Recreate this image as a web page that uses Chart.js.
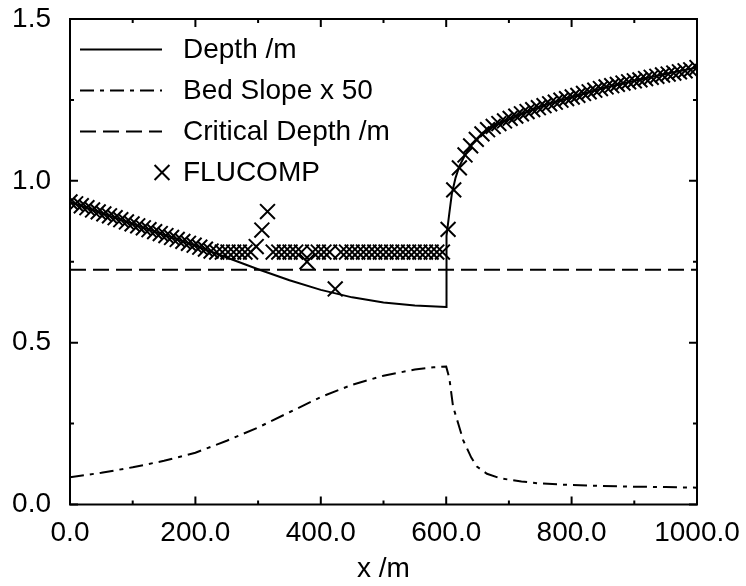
<!DOCTYPE html>
<html>
<head>
<meta charset="utf-8">
<script src="https://cdn.jsdelivr.net/npm/chart.js@4.4.0/dist/chart.umd.min.js"></script>
<style>
  html, body { margin: 0; padding: 0; background: #fff; }
  #wrap { width: 746px; height: 586px; }
</style>
</head>
<body>
<div id="wrap"><canvas id="chart" width="746" height="586"></canvas></div>
<script>
// water surface profile along the channel
const depthX = [0, 50, 100, 150, 200, 250, 300, 350, 400, 450, 500, 550, 600, 600, 601, 605, 609, 615, 621, 630, 640, 655, 670, 690, 720, 760, 800, 850, 900, 950, 1000];
const depthY = [0.935, 0.901, 0.867, 0.833, 0.800, 0.763, 0.727, 0.693, 0.663, 0.640, 0.624, 0.615, 0.610, 0.760, 0.830, 0.900, 0.960, 1.010, 1.045, 1.080, 1.110, 1.140, 1.163, 1.182, 1.207, 1.236, 1.258, 1.287, 1.309, 1.330, 1.350];

// bed slope, scaled by 50
const slopeX = [0, 50, 100, 150, 200, 250, 300, 350, 400, 450, 500, 550, 580, 600, 605, 611, 620, 627, 640, 649, 665, 686, 720, 750, 800, 850, 900, 950, 1000];
const slopeY = [0.084, 0.098, 0.115, 0.135, 0.160, 0.197, 0.238, 0.285, 0.332, 0.370, 0.398, 0.417, 0.424, 0.426, 0.390, 0.302, 0.245, 0.199, 0.145, 0.117, 0.095, 0.081, 0.071, 0.065, 0.060, 0.057, 0.055, 0.054, 0.052];

const criticalX = [0, 1000];
const criticalY = [0.725, 0.725];

// FLUCOMP results
const fluX = [0, 9, 18, 27, 36, 45, 54, 63, 72, 81, 90, 99, 108, 117, 126, 135, 144, 153, 162, 171, 180, 189, 198, 207, 216, 225,
  234, 243, 252, 261, 270, 279, 288, 297, 306, 315, 324, 333, 342, 351, 360, 369, 378, 387, 396, 405, 414, 423,
  432, 441, 450, 459, 468, 477, 486, 495, 504, 513, 522, 531, 540, 549, 558, 567, 576, 585, 594,
  603, 612, 621, 630, 639, 648, 657, 666, 675, 684, 693, 702, 711, 720, 729, 738, 747, 756, 765, 774, 783, 792,
  801, 810, 819, 828, 837, 846, 855, 864, 873, 882, 891, 900, 909, 918, 927, 936, 945, 954, 963, 972, 981, 990, 1000];
const fluY = [0.935, 0.929, 0.923, 0.917, 0.910, 0.904, 0.898, 0.892, 0.886, 0.880, 0.873, 0.867, 0.861, 0.855, 0.849, 0.843, 0.837, 0.831, 0.825, 0.819, 0.813, 0.807, 0.801, 0.795, 0.789, 0.783,
  0.780, 0.780, 0.780, 0.780, 0.780, 0.780, 0.780, 0.797, 0.848, 0.905, 0.780, 0.780, 0.780, 0.780, 0.780, 0.780, 0.750, 0.780, 0.780, 0.780, 0.780, 0.666,
  0.780, 0.780, 0.780, 0.780, 0.780, 0.780, 0.780, 0.780, 0.780, 0.780, 0.780, 0.780, 0.780, 0.780, 0.780, 0.780, 0.780, 0.780, 0.780,
  0.850, 0.972, 1.040, 1.080, 1.108, 1.128, 1.145, 1.158, 1.168, 1.177, 1.185, 1.193, 1.200, 1.207, 1.214, 1.220, 1.226, 1.232, 1.238, 1.243, 1.249, 1.254,
  1.259, 1.264, 1.270, 1.275, 1.280, 1.285, 1.290, 1.294, 1.298, 1.302, 1.306, 1.309, 1.312, 1.316, 1.320, 1.323, 1.327, 1.330, 1.333, 1.337, 1.340, 1.343, 1.350];

const pts = (xs, ys) => xs.map((x, i) => ({ x, y: ys[i] }));

const FONT = { family: "'Liberation Sans', Arial, sans-serif", size: 28 };
const INK = '#000';

// box around the plot with ticks pointing inwards on all four sides
const frameTicks = {
  id: 'frameTicks',
  afterDraw(chart) {
    const { ctx, chartArea: a, scales: { x, y } } = chart;
    ctx.save();
    ctx.strokeStyle = INK;
    ctx.lineWidth = 2;
    ctx.setLineDash([]);
    ctx.strokeRect(a.left, a.top, a.right - a.left, a.bottom - a.top);

    const marks = (scale) => {
      const out = [];
      scale.ticks.forEach((t, i) => {
        out.push({ v: t.value, len: 8 });
        const next = scale.ticks[i + 1];
        if (next) out.push({ v: (t.value + next.value) / 2, len: 4 });
      });
      return out;
    };

    ctx.beginPath();
    marks(x).forEach(({ v, len }) => {
      const px = x.getPixelForValue(v);
      ctx.moveTo(px, a.bottom); ctx.lineTo(px, a.bottom - len);
      ctx.moveTo(px, a.top); ctx.lineTo(px, a.top + len);
    });
    marks(y).forEach(({ v, len }) => {
      const py = y.getPixelForValue(v);
      ctx.moveTo(a.left, py); ctx.lineTo(a.left + len, py);
      ctx.moveTo(a.right, py); ctx.lineTo(a.right - len, py);
    });
    ctx.stroke();
    ctx.restore();
  }
};

// key drawn inside the top-left corner of the plot
const insideLegend = {
  id: 'insideLegend',
  afterDraw(chart) {
    const { ctx, chartArea: a } = chart;
    ctx.save();
    ctx.font = `${FONT.size}px ${FONT.family}`;
    ctx.fillStyle = INK;
    ctx.strokeStyle = INK;
    ctx.textBaseline = 'middle';
    chart.data.datasets.forEach((ds, i) => {
      const cy = a.top + 30.5 + i * 41;
      ctx.lineWidth = 2;
      if (ds.showLine === false) {
        ctx.setLineDash([]);
        Chart.helpers.drawPoint(ctx, { pointStyle: ds.pointStyle, radius: ds.pointRadius, rotation: 0, borderWidth: 2 }, a.left + 92, cy);
      } else {
        ctx.setLineDash(ds.borderDash || []);
        ctx.beginPath();
        ctx.moveTo(a.left + 10, cy);
        ctx.lineTo(a.left + 92, cy);
        ctx.stroke();
      }
      ctx.setLineDash([]);
      ctx.fillText(ds.label, a.left + 113, cy + 1);
    });
    ctx.restore();
  }
};

// the plot box is fixed by layout padding, so drop the overhang the tick labels ask for
const noOverhang = s => { s.paddingLeft = 0; s.paddingRight = 0; s.paddingTop = 0; s.paddingBottom = 0; };

new Chart(document.getElementById('chart'), {
  type: 'line',
  data: {
    datasets: [
      { label: 'Depth /m', data: pts(depthX, depthY), borderColor: INK, borderWidth: 2, pointRadius: 0, tension: 0 },
      { label: 'Bed Slope x 50', data: pts(slopeX, slopeY), borderColor: INK, borderWidth: 2, borderDash: [14, 6, 4, 6], pointRadius: 0, tension: 0 },
      { label: 'Critical Depth /m', data: pts(criticalX, criticalY), borderColor: INK, borderWidth: 2, borderDash: [16, 7], pointRadius: 0 },
      { label: 'FLUCOMP', type: 'scatter', showLine: false, data: pts(fluX, fluY), borderColor: INK, backgroundColor: INK, borderWidth: 2, pointStyle: 'crossRot', pointRadius: 10.5 }
    ]
  },
  options: {
    responsive: false,
    animation: false,
    layout: { padding: { top: 19, right: 49, bottom: 0, left: 0 } },
    plugins: { legend: { display: false }, tooltip: { enabled: false } },
    scales: {
      x: {
        type: 'linear', min: 0, max: 1000,
        grid: { display: false, drawTicks: false },
        border: { display: false },
        ticks: { stepSize: 200, autoSkip: false, maxRotation: 0, padding: 12, color: INK, font: FONT, callback: v => v.toFixed(1) },
        title: { display: true, text: 'x /m', color: INK, font: FONT, padding: { top: 0, bottom: 0 } },
        afterFit: s => { s.height = 81.5; noOverhang(s); }
      },
      y: {
        min: 0, max: 1.5,
        grid: { display: false, drawTicks: false },
        border: { display: false },
        ticks: { stepSize: 0.5, padding: 19, color: INK, font: FONT, callback: v => v.toFixed(1) },
        afterFit: s => { s.width = 70; noOverhang(s); }
      }
    }
  },
  plugins: [frameTicks, insideLegend]
});
</script>
</body>
</html>
